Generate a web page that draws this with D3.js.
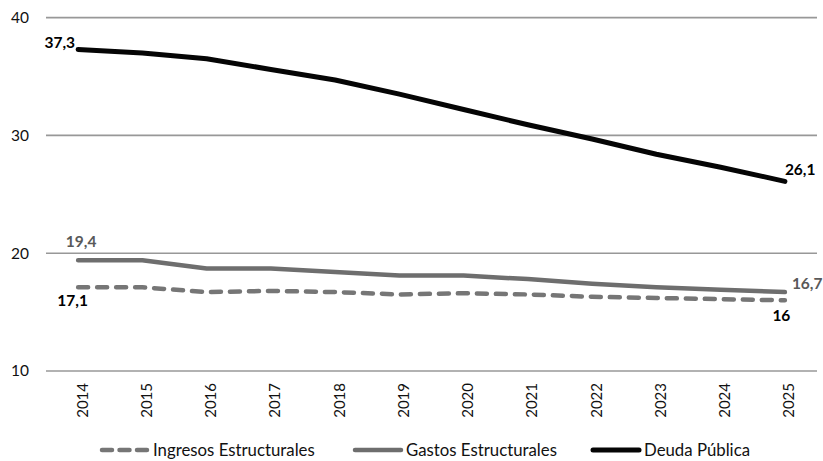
<!DOCTYPE html>
<html>
<head>
<meta charset="utf-8">
<script src="https://cdn.jsdelivr.net/npm/d3@7"></script>
<style>
  html, body { margin: 0; padding: 0; background: #fff; }
  svg { display: block; font-family: Lato, "Open Sans", sans-serif; }
</style>
</head>
<body>
<svg id="chart" width="823" height="461"></svg>
<script>
// Years on the horizontal axis
const years = ["2014","2015","2016","2017","2018","2019","2020","2021","2022","2023","2024","2025"];

// Series values (% of GDP)
const ingresosEstructurales = [17.1, 17.1, 16.7, 16.8, 16.7, 16.5, 16.6, 16.5, 16.3, 16.2, 16.1, 16.0];
const gastosEstructurales   = [19.4, 19.4, 18.7, 18.7, 18.4, 18.1, 18.1, 17.8, 17.4, 17.1, 16.9, 16.7];
const deudaPublica          = [37.3, 37.0, 36.5, 35.6, 34.7, 33.5, 32.2, 30.9, 29.7, 28.4, 27.3, 26.1];

// Y axis ticks
const yTicks = [10, 20, 30, 40];

// Series names
const seriesNames = ["Ingresos Estructurales", "Gastos Estructurales", "Deuda Pública"];

const svg = d3.select("#chart");
const plot = { left: 46, right: 817, top: 17.6, bottom: 371 };

const x = d3.scalePoint().domain(years).range([plot.left, plot.right]).padding(0.5);
const y = d3.scaleLinear().domain([10, 40]).range([plot.bottom, plot.top]);

// Horizontal gridlines
svg.append("g")
  .selectAll("line")
  .data(yTicks)
  .join("line")
  .attr("x1", plot.left).attr("x2", plot.right)
  .attr("y1", d => y(d)).attr("y2", d => y(d))
  .attr("stroke", "#989898").attr("stroke-width", 1.6);

// Y axis labels
const yAxis = d3.axisLeft(y).tickValues(yTicks).tickSize(0).tickPadding(0);
svg.append("g")
  .attr("transform", `translate(${plot.left - 17},0)`)
  .call(yAxis)
  .call(g => g.select(".domain").remove())
  .call(g => g.selectAll("text")
    .attr("font-size", 15.5).attr("fill", "#111")
    .attr("font-family", "Lato, sans-serif"));

// X axis labels (rotated)
const xAxis = d3.axisBottom(x).tickSize(0).tickPadding(0);
svg.append("g")
  .attr("transform", `translate(0,${plot.bottom})`)
  .call(xAxis)
  .call(g => g.select(".domain").remove())
  .call(g => g.selectAll("text")
    .attr("font-size", 15).attr("fill", "#111")
    .attr("font-family", "Lato, sans-serif")
    .attr("text-anchor", "end")
    .attr("dy", null)
    .attr("transform", "translate(3,12) rotate(-90)")
    .attr("x", 0).attr("y", 0)
    .attr("dominant-baseline", "central"));

const series = [
  { name: seriesNames[0], values: ingresosEstructurales, color: "#767676", width: 4.5, dash: "10,9" },
  { name: seriesNames[1], values: gastosEstructurales,   color: "#6e6e6e", width: 4.5, dash: null },
  { name: seriesNames[2], values: deudaPublica,          color: "#050505", width: 5,   dash: null }
];

const line = d3.line()
  .x((d, i) => x(years[i]))
  .y(d => y(d));

svg.append("g")
  .selectAll("path")
  .data(series)
  .join("path")
  .attr("d", d => line(d.values))
  .attr("fill", "none")
  .attr("stroke", d => d.color)
  .attr("stroke-width", d => d.width)
  .attr("stroke-linecap", "round")
  .attr("stroke-linejoin", "round")
  .attr("stroke-dasharray", d => d.dash);

// End-point value labels
const fmt = v => String(v).replace(".", ",");
const first = 0, last = years.length - 1;
const labels = [
  { v: deudaPublica[first], i: first, dx: -3, dy: -1, anchor: "end", color: "#000" },
  { v: deudaPublica[last], i: last, dx: 0, dy: -6, anchor: "start", color: "#000" },
  { v: gastosEstructurales[first], i: first, dx: 3, dy: -13, anchor: "middle", color: "#595959" },
  { v: gastosEstructurales[last], i: last, dx: 7, dy: -3, anchor: "start", color: "#595959" },
  { v: ingresosEstructurales[first], i: first, dx: -5.5, dy: 19, anchor: "middle", color: "#000" },
  { v: ingresosEstructurales[last], i: last, dx: -3.5, dy: 21, anchor: "middle", color: "#000" }
];
svg.append("g")
  .selectAll("text")
  .data(labels)
  .join("text")
  .attr("x", d => x(years[d.i]) + d.dx)
  .attr("y", d => y(d.v) + d.dy)
  .attr("text-anchor", d => d.anchor)
  .attr("fill", d => d.color)
  .attr("font-size", 15.5)
  .attr("font-weight", 700)
  .text(d => fmt(d.v));

// Legend
const legendItems = [
  { s: series[0], x0: 102 },
  { s: series[1], x0: 355 },
  { s: series[2], x0: 593 }
];
const legend = svg.append("g").attr("transform", "translate(0,450)");
legendItems.forEach(item => {
  legend.append("line")
    .attr("x1", item.x0).attr("x2", item.x0 + 46)
    .attr("y1", 0).attr("y2", 0)
    .attr("stroke", item.s.color)
    .attr("stroke-width", item.s.width)
    .attr("stroke-linecap", "round")
    .attr("stroke-dasharray", item.s.dash ? "10,7.5" : null);
  legend.append("text")
    .attr("x", item.x0 + 51)
    .attr("y", 0)
    .attr("dy", "0.35em")
    .attr("font-size", 16.8)
    .attr("fill", "#111")
    .text(item.s.name);
});
</script>
</body>
</html>
